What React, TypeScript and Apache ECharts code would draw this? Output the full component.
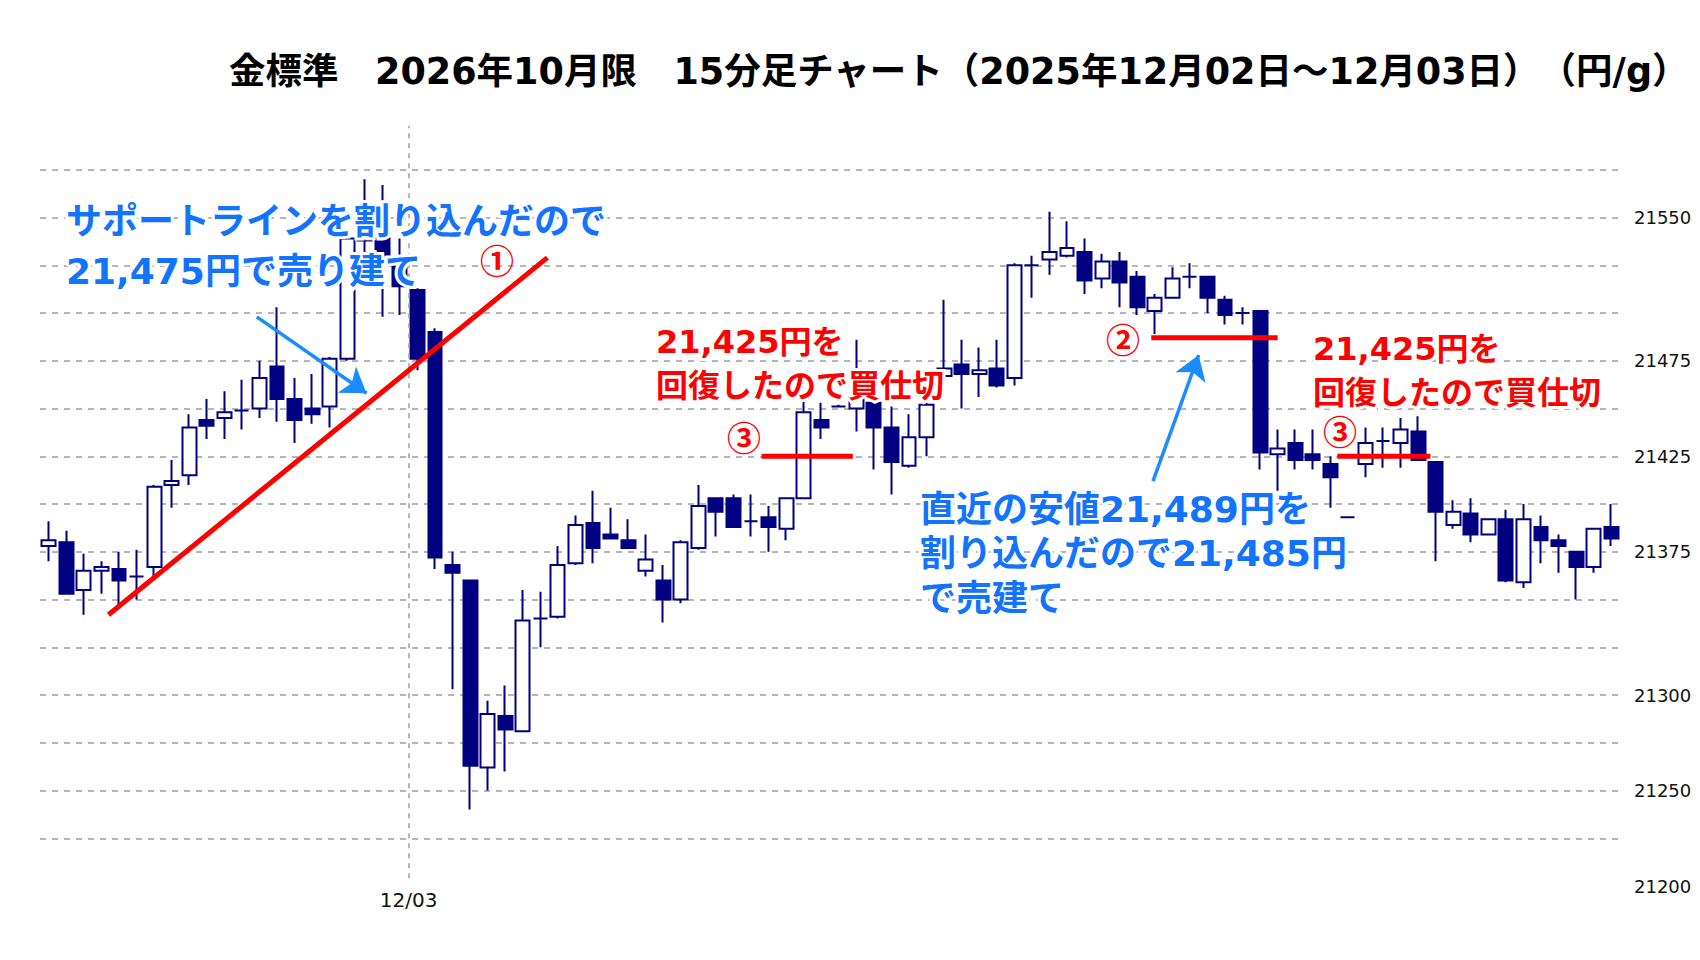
import React, { useEffect, useRef } from 'react';
import * as echarts from 'echarts';

// ---- data (15-minute OHLC, 90 bars) ----
const opens = [
  21378, 21380, 21355, 21365, 21366, 21362, 21367, 21410, 21415, 21444,
  21445, 21449, 21450, 21472, 21455, 21450, 21451, 21476, 21538, 21539,
  21528, 21512, 21490, 21368, 21360, 21262, 21289, 21281, 21340, 21341,
  21369, 21390, 21384, 21381, 21365, 21360, 21350, 21377, 21403, 21403,
  21391, 21393, 21387, 21403, 21444, 21451, 21450, 21453, 21440, 21420,
  21435, 21467, 21473, 21468, 21471, 21466, 21525, 21528, 21530, 21532,
  21518, 21527, 21519, 21501, 21508, 21519, 21519, 21507, 21500, 21501,
  21426, 21432, 21426, 21421, 21393, 21421, 21433, 21432, 21438, 21422,
  21389, 21395, 21384, 21392, 21359, 21388, 21381, 21375, 21367, 21388,
];
const closes = [
  21381, 21353, 21365, 21367, 21360, 21362, 21409, 21412, 21440, 21441,
  21448, 21449, 21466, 21455, 21444, 21447, 21476, 21539, 21541, 21528,
  21514, 21476, 21372, 21364, 21263, 21290, 21282, 21339, 21340, 21368,
  21389, 21377, 21382, 21377, 21371, 21350, 21380, 21399, 21396, 21388,
  21391, 21388, 21403, 21448, 21440, 21451, 21456, 21440, 21422, 21435,
  21452, 21471, 21468, 21470, 21462, 21525, 21525, 21532, 21534, 21517,
  21527, 21516, 21503, 21508, 21518, 21519, 21508, 21499, 21500, 21427,
  21429, 21423, 21423, 21414, 21393, 21432, 21433, 21439, 21423, 21396,
  21396, 21384, 21392, 21360, 21392, 21381, 21378, 21367, 21387, 21382,
];
const lows = [
  21370, 21353, 21342, 21353, 21347, 21350, 21362, 21398, 21410, 21434,
  21434, 21439, 21445, 21443, 21432, 21442, 21440, 21475, 21525, 21498,
  21499, 21470, 21366, 21303, 21240, 21250, 21260, 21281, 21325, 21340,
  21368, 21369, 21382, 21377, 21362, 21338, 21348, 21376, 21383, 21388,
  21383, 21375, 21381, 21403, 21434, 21451, 21438, 21418, 21405, 21419,
  21425, 21467, 21450, 21456, 21461, 21462, 21508, 21520, 21529, 21510,
  21513, 21503, 21499, 21489, 21508, 21513, 21500, 21494, 21494, 21418,
  21407, 21418, 21418, 21398, 21393, 21414, 21419, 21419, 21423, 21370,
  21387, 21380, 21384, 21359, 21356, 21369, 21364, 21350, 21364, 21378,
];
const highs = [
  21391, 21386, 21374, 21370, 21375, 21376, 21410, 21423, 21447, 21455,
  21459, 21465, 21475, 21503, 21466, 21468, 21477, 21542, 21570, 21567,
  21539, 21513, 21492, 21375, 21360, 21297, 21305, 21355, 21354, 21378,
  21394, 21407, 21398, 21392, 21384, 21368, 21381, 21410, 21403, 21405,
  21405, 21399, 21403, 21454, 21453, 21452, 21486, 21454, 21451, 21447,
  21453, 21507, 21486, 21482, 21486, 21526, 21530, 21553, 21548, 21539,
  21531, 21532, 21522, 21510, 21524, 21526, 21519, 21509, 21503, 21501,
  21439, 21439, 21439, 21425, 21393, 21440, 21440, 21445, 21446, 21422,
  21402, 21403, 21392, 21397, 21400, 21394, 21384, 21375, 21387, 21400,
];
const categories = opens.map((_, i) => String(i + 1));

const yMin = 21200;
const yMax = 21600;
const yStep = 25;
const yLabelValues = [21550, 21475, 21425, 21375, 21300, 21250, 21200];

// annotation geometry in data space: [bar index (0-based), price]
const supportLine = [[3.4, 21342], [28.4, 21529]];
const recoverLine1 = [[40.6, 21425], [45.8, 21425]];
const breakLine = [[62.8, 21487], [70.0, 21487]];
const recoverLine2 = [[73.4, 21425], [78.7, 21425]];
const arrow1 = [[11.85, 21498], [18.1, 21458]];
const arrow2 = [[62.9, 21412], [65.5, 21478]];
const dateBoundary = 20.5;
const dateLabel = '12/03';

const titleText = '金標準　2026年10月限　15分足チャート（2025年12月02日～12月03日）　（円/g）';
const note1 = 'サポートラインを割り込んだので\n21,475円で売り建て';
const note2 = '21,425円を\n回復したので買仕切';
const note3 = '直近の安値21,489円を\n割り込んだので21,485円\nで売建て';

const NAVY = '#000080';
const RED = '#ff0000';
const BLUE_TXT = '#1273ff';
const BLUE_ARROW = '#1a8cff';
const FONT = "'DejaVu Sans', 'Noto Sans CJK JP', sans-serif";
const CJK = "'Noto Sans CJK JP', sans-serif";

function redSegment(data: number[][]) {
  return {
    type: 'line',
    xAxisIndex: 1,
    yAxisIndex: 0,
    data,
    symbol: 'none',
    silent: true,
    z: 5,
    lineStyle: { color: RED, width: 5 },
  };
}

export default function App() {
  const ref = useRef<HTMLDivElement>(null);

  useEffect(() => {
    document.body.style.margin = '0';
    if (!ref.current) return;
    const chart = echarts.init(ref.current, undefined, { renderer: 'svg' });

    const candles = opens.map((o, i) => [o, closes[i], lows[i], highs[i]]);

    const halo = { stroke: '#ffffff', lineWidth: 6, strokeFirst: true };

    const noteStyle = (text: string, fill: string, fontSize: number, lineHeight: number) => ({
      text,
      fill,
      fontSize,
      fontWeight: 'bold',
      fontFamily: FONT,
      lineHeight,
      textAlign: 'left',
      textVerticalAlign: 'top',
      ...halo,
    });

    const option: any = {
      animation: false,
      backgroundColor: '#ffffff',
      grid: { left: 40, right: 80, top: 122, bottom: 74, containLabel: false },
      xAxis: [
        {
          type: 'category',
          data: categories,
          boundaryGap: true,
          axisLine: { show: false },
          axisTick: { show: false },
          axisLabel: { show: false },
          splitLine: { show: false },
        },
        { type: 'value', min: -0.5, max: 89.5, show: false },
      ],
      yAxis: {
        type: 'value',
        position: 'right',
        min: yMin,
        max: yMax,
        interval: yStep,
        axisLine: { show: false },
        axisTick: { show: false },
        axisLabel: {
          formatter: (v: number) => (yLabelValues.includes(v) ? String(v) : ''),
          color: '#111111',
          fontSize: 18,
          fontFamily: 'DejaVu Sans',
          margin: 14,
          padding: [0, 0, 8, 0],
        },
        splitLine: {
          show: true,
          showMinLine: false,
          showMaxLine: false,
          lineStyle: { type: [6, 6], color: '#9e9e9e', width: 1.5 },
        },
      },
      series: [
        {
          type: 'candlestick',
          data: candles,
          barWidth: '82%',
          z: 3,
          itemStyle: {
            color: '#ffffff',
            color0: NAVY,
            borderColor: NAVY,
            borderColor0: NAVY,
            borderColorDoji: NAVY,
            borderWidth: 2,
          },
        },
        {
          type: 'line',
          xAxisIndex: 1,
          yAxisIndex: 0,
          data: [],
          silent: true,
          z: 1,
          markLine: {
            silent: true,
            symbol: 'none',
            animation: false,
            lineStyle: { type: [5, 5], color: '#9e9e9e', width: 1.5 },
            label: {
              show: true,
              position: 'start',
              formatter: dateLabel,
              color: '#111111',
              fontSize: 20,
              fontFamily: 'DejaVu Sans',
              distance: 12,
            },
            data: [[{ coord: [dateBoundary, 21204] }, { coord: [dateBoundary, 21598] }]],
          },
        },
        redSegment(supportLine),
        redSegment(recoverLine1),
        redSegment(breakLine),
        redSegment(recoverLine2),
        {
          type: 'line',
          xAxisIndex: 1,
          yAxisIndex: 0,
          data: [],
          silent: true,
          z: 6,
          markLine: {
            silent: true,
            animation: false,
            symbol: ['none', 'arrow'],
            symbolSize: 24,
            label: { show: false },
            lineStyle: { type: 'solid', color: BLUE_ARROW, width: 3.5 },
            data: [
              [{ coord: arrow1[0] }, { coord: arrow1[1] }],
              [{ coord: arrow2[0] }, { coord: arrow2[1] }],
            ],
          },
        },
      ],
      graphic: [
        {
          type: 'text',
          z: 100,
          x: 229,
          y: 71.5,
          style: {
            text: titleText,
            fill: '#000000',
            fontSize: 36.5,
            fontWeight: 'bold',
            fontFamily: FONT,
            textAlign: 'left',
            textVerticalAlign: 'middle',
          },
        },
        { type: 'text', z: 100, x: 66, y: 196, style: noteStyle(note1, BLUE_TXT, 36, 50) },
        { type: 'text', z: 100, x: 656, y: 319.5, style: noteStyle(note2, RED, 32, 44) },
        { type: 'text', z: 100, x: 1313, y: 327, style: noteStyle(note2, RED, 32, 44) },
        { type: 'text', z: 100, x: 920, y: 487, style: noteStyle(note3, BLUE_TXT, 36, 44.5) },
        ...[
          { t: '①', x: 497, y: 259 },
          { t: '③', x: 744, y: 436 },
          { t: '②', x: 1123, y: 338 },
          { t: '③', x: 1340, y: 430 },
        ].map((c) => ({
          type: 'text',
          z: 100,
          x: c.x,
          y: c.y,
          style: {
            text: c.t,
            fill: RED,
            fontSize: 34,
            fontWeight: 'bold',
            fontFamily: CJK,
            textAlign: 'center',
            textVerticalAlign: 'middle',
          },
        })),
      ],
    };

    chart.setOption(option);
    return () => {
      chart.dispose();
    };
  }, []);

  return <div ref={ref} style={{ width: 1700, height: 960 }} />;
}
